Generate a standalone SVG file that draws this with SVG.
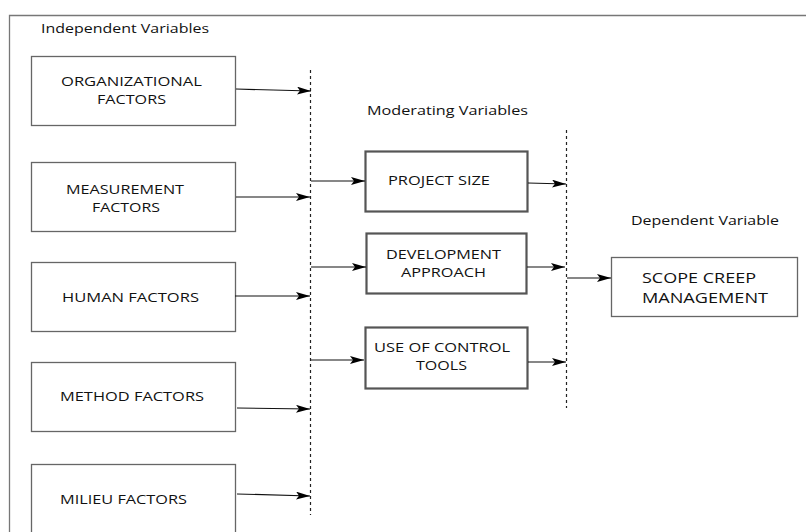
<svg xmlns="http://www.w3.org/2000/svg" width="806" height="532" viewBox="0 0 806 532">
<style>
text{font-family:"Open Sans","DejaVu Sans",sans-serif;fill:#111;}
.lbl{font-size:13.5px;}
.bt{font-size:13px;}
.ib{fill:#fff;stroke:#666;stroke-width:1.3;}
.mb{fill:#fff;stroke:#555;stroke-width:2.2;}
.ar{stroke:#111;stroke-width:1.2;fill:none;marker-end:url(#ah);}
.dl{stroke:#222;stroke-width:1.2;stroke-dasharray:3 3;fill:none;}
</style>
<defs>
<marker id="ah" viewBox="0 0 14 8" refX="14" refY="4" markerWidth="14" markerHeight="8" markerUnits="userSpaceOnUse" orient="auto">
<path d="M0,0 L14,4 L0,8 L3,4 Z" fill="#000"/>
</marker>
</defs>
<rect width="806" height="532" fill="#fff"/>
<path d="M9.5,532 V15.5 H806" fill="none" stroke="#777" stroke-width="1.3"/>
<text class="lbl" x="41" y="33" textLength="168" lengthAdjust="spacingAndGlyphs">Independent Variables</text>
<text class="lbl" x="367" y="115" textLength="161" lengthAdjust="spacingAndGlyphs">Moderating Variables</text>
<text class="lbl" x="631" y="225" textLength="148" lengthAdjust="spacingAndGlyphs">Dependent Variable</text>

<g id="org"><rect class="ib" x="31.5" y="56.5" width="204" height="69"/><text class="bt" x="61" y="86" textLength="141" lengthAdjust="spacingAndGlyphs">ORGANIZATIONAL</text><text class="bt" x="97" y="104" textLength="69" lengthAdjust="spacingAndGlyphs">FACTORS</text></g>
<g id="measurement"><rect class="ib" x="31.5" y="162.5" width="204" height="69"/><text class="bt" x="66" y="194" textLength="118" lengthAdjust="spacingAndGlyphs">MEASUREMENT</text><text class="bt" x="92" y="212" textLength="68" lengthAdjust="spacingAndGlyphs">FACTORS</text></g>
<g id="human"><rect class="ib" x="31.5" y="262.5" width="204" height="69"/><text class="bt" x="62" y="302" textLength="137" lengthAdjust="spacingAndGlyphs">HUMAN FACTORS</text></g>
<g id="method"><rect class="ib" x="31.5" y="362.5" width="204" height="69"/><text class="bt" x="60" y="401" textLength="144" lengthAdjust="spacingAndGlyphs">METHOD FACTORS</text></g>
<g id="milieu"><rect class="ib" x="31.5" y="464.5" width="204" height="80"/><text class="bt" x="60" y="504" textLength="127" lengthAdjust="spacingAndGlyphs">MILIEU FACTORS</text></g>

<g id="project-size"><rect class="mb" x="365.5" y="151.5" width="162" height="60"/><text class="bt" x="388" y="185" textLength="102" lengthAdjust="spacingAndGlyphs">PROJECT SIZE</text></g>
<g id="development"><rect class="mb" x="366.5" y="233.5" width="160" height="60"/><text class="bt" x="386" y="259" textLength="115" lengthAdjust="spacingAndGlyphs">DEVELOPMENT</text><text class="bt" x="401" y="277" textLength="85" lengthAdjust="spacingAndGlyphs">APPROACH</text></g>
<g id="control-tools"><rect class="mb" x="365.5" y="327.5" width="162" height="61"/><text class="bt" x="374" y="352" textLength="136" lengthAdjust="spacingAndGlyphs">USE OF CONTROL</text><text class="bt" x="416" y="370" textLength="51" lengthAdjust="spacingAndGlyphs">TOOLS</text></g>

<g id="scope"><rect class="ib" x="611.5" y="257.5" width="186" height="59"/><text x="642" y="283" style="font-size:13.9px" textLength="114" lengthAdjust="spacingAndGlyphs">SCOPE CREEP</text><text x="642" y="302.5" style="font-size:13.9px" textLength="126" lengthAdjust="spacingAndGlyphs">MANAGEMENT</text></g>

<g id="connectors">
<line class="dl" x1="310.5" y1="70" x2="310.5" y2="515"/>
<line class="dl" x1="566.5" y1="130" x2="566.5" y2="408"/>
<path class="ar" d="M236,89 L311,91"/>
<path class="ar" d="M236,197 L310,197"/>
<path class="ar" d="M235,296 L310,296"/>
<path class="ar" d="M237,408 L310,409"/>
<path class="ar" d="M237,494 L310,496"/>
<path class="ar" d="M311,181 L365,181"/>
<path class="ar" d="M311,267 L366,267"/>
<path class="ar" d="M311,360 L364,360"/>
<path class="ar" d="M528,183 L566,184"/>
<path class="ar" d="M527,267 L565,267"/>
<path class="ar" d="M528,362 L566,362"/>
<path class="ar" d="M567,278 L611,278"/>
</g>
</svg>
